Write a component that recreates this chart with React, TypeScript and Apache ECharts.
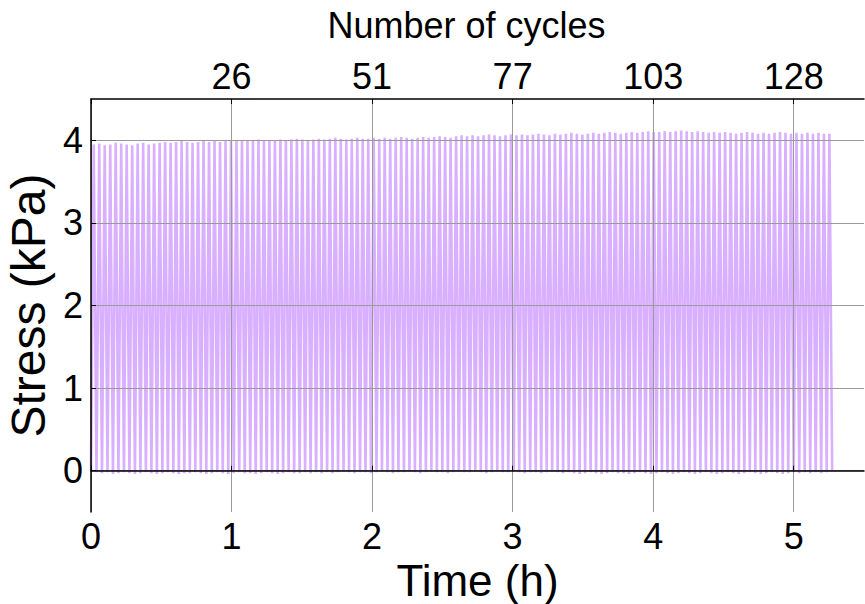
import React, { useEffect, useRef } from "react";
import * as echarts from "echarts";

// Peak stress (kPa) of each loading cycle
const PEAKS: number[] = [
  3.95, 3.96, 3.94, 3.95, 3.97, 3.96, 3.95, 3.94, 3.96, 3.97, 3.95, 3.96, 3.97,
  3.98, 3.97, 3.98, 3.99, 3.98, 3.97, 3.98, 3.99, 3.98, 3.99, 3.98, 3.99, 4.0,
  3.99, 4.0, 3.99, 4.0, 4.01, 4.0, 3.99, 4.0, 4.01, 4.0, 4.01, 4.02, 4.01, 4.0, 4.01, 4.02, 4.01, 4.02, 4.03, 4.02, 4.01, 4.02, 4.03, 4.02, 4.02,
  4.03, 4.02, 4.03, 4.02, 4.03, 4.04, 4.03, 4.02, 4.03, 4.04, 4.03, 4.04, 4.05, 4.04, 4.03, 4.05, 4.06, 4.05, 4.06, 4.05, 4.06, 4.07, 4.06, 4.05, 4.06, 4.07,
  4.06, 4.07, 4.06, 4.07, 4.08, 4.07, 4.06, 4.08, 4.07, 4.08, 4.09, 4.08, 4.07, 4.08, 4.09, 4.08, 4.09, 4.1, 4.09, 4.08, 4.09, 4.1, 4.09, 4.1, 4.11, 4.1,
  4.1, 4.11, 4.1, 4.11, 4.12, 4.11, 4.1, 4.11, 4.1, 4.09, 4.1, 4.09, 4.1, 4.09, 4.08, 4.09, 4.1, 4.09, 4.08, 4.09, 4.08, 4.09, 4.1, 4.09, 4.08, 4.09, 4.08, 4.09, 4.08, 4.09, 4.08, 4.08,
];

// Trough stress (kPa) before each cycle (plus the final unloading value)
const TROUGHS: number[] = [
  0.0, -0.02, -0.03, -0.02, -0.04, -0.03, -0.02, -0.03, -0.04, -0.03,
  -0.02, -0.03, -0.04, -0.03, -0.02, -0.03, -0.04, -0.03, -0.03, -0.02,
  -0.03, -0.04, -0.03, -0.02, -0.03, -0.04, -0.03, -0.02, -0.03, -0.03,
  -0.04, -0.03, -0.02, -0.03, -0.04, -0.03, -0.02, -0.03, -0.03, -0.02,
  -0.03, -0.02, -0.03, -0.02, -0.03, -0.02, -0.01, -0.02, -0.03, -0.02,
  -0.02, -0.03, -0.02, -0.01, -0.02, -0.03, -0.02, -0.02, -0.01, -0.02,
  -0.03, -0.02, -0.01, -0.02, -0.02, -0.03, -0.02, -0.01, -0.02, -0.02,
  -0.01, -0.02, -0.03, -0.02, -0.01, -0.02, -0.02, -0.01, -0.02, -0.03,
  -0.02, -0.02, -0.03, -0.02, -0.01, -0.02, -0.03, -0.02, -0.03, -0.04,
  -0.03, -0.02, -0.03, -0.04, -0.03, -0.02, -0.03, -0.03, -0.04, -0.03,
  -0.02, -0.03, -0.04, -0.03, -0.02, -0.03, -0.04, -0.03, -0.02, -0.03,
  -0.04, -0.03, -0.02, -0.03, -0.04, -0.03, -0.02, -0.03, -0.04, -0.03,
  -0.02, -0.03, -0.04, -0.03, -0.02, -0.03, -0.04, -0.03, -0.02, -0.03,
  -0.02, -0.03, -0.02, -0.03, -0.02, 0.0,
];

const CYCLES_PER_HOUR = 25.6;
const TIME_TICKS = [0, 1, 2, 3, 4, 5];
const TIME_LABELS = [0, 1, 2, 3, 4, 5];
const CYCLE_TICK_POS = [1, 2, 3, 4, 5];
const CYCLE_TICK_LABELS = ["26", "51", "77", "103", "128"];
const STRESS_TICKS = [0, 1, 2, 3, 4];

const FONT = "'Liberation Sans', Arial, Helvetica, sans-serif";

export default function App() {
  const ref = useRef<HTMLDivElement>(null);

  useEffect(() => {
    if (!ref.current) return;
    const chart = echarts.init(ref.current, undefined, { renderer: "svg" });

    const period = 1 / CYCLES_PER_HOUR;
    const n = Math.min(PEAKS.length, TROUGHS.length - 1);
    const data: [number, number][] = [];
    for (let i = 0; i < n; i++) {
      data.push([i * period, TROUGHS[i]]);
      data.push([(i + 0.5) * period, PEAKS[i]]);
    }
    data.push([n * period, TROUGHS[n]]);

    const axisLine = { show: true, lineStyle: { color: "#000", width: 1.5 } };
    const gridLine = { show: true, lineStyle: { color: "#9a9a9a", width: 1, type: "solid" as const } };

    chart.setOption({
      animation: false,
      backgroundColor: "#fff",
      grid: { left: 91, right: 1, top: 99, bottom: 92, containLabel: false, outerBoundsMode: "none" },
      xAxis: [
        {
          type: "value",
          position: "bottom",
          min: 0,
          max: 5.5,
          interval: 1,
          name: "Time (h)",
          nameLocation: "middle",
          nameGap: 42,
          nameTextStyle: { fontFamily: FONT, fontSize: 44, color: "#000" },
          axisLine,
          axisTick: { show: true, inside: true, length: 5, customValues: TIME_TICKS, lineStyle: { color: "#000" } },
          axisLabel: {
            customValues: TIME_LABELS,
            fontFamily: FONT,
            fontSize: 36,
            color: "#000",
            margin: 6,
          },
          splitLine: gridLine,
        },
        {
          type: "value",
          position: "top",
          min: 0,
          max: 5.5,
          interval: 1,
          name: "Number of cycles",
          nameLocation: "middle",
          nameGap: 56,
          nameTextStyle: { fontFamily: FONT, fontSize: 36, color: "#000", padding: [0, 22, 0, 0] },
          axisLine,
          axisTick: { show: true, inside: true, length: 5, customValues: TIME_TICKS, lineStyle: { color: "#000" } },
          axisLabel: {
            customValues: CYCLE_TICK_POS,
            formatter: (v: number) => CYCLE_TICK_LABELS[CYCLE_TICK_POS.indexOf(Math.round(v))] ?? "",
            fontFamily: FONT,
            fontSize: 36,
            color: "#000",
            margin: 5,
          },
          splitLine: { show: false },
        },
      ],
      yAxis: {
        type: "value",
        min: -0.5,
        max: 4.5,
        name: "Stress (kPa)",
        nameLocation: "middle",
        nameGap: 32,
        nameTextStyle: { fontFamily: FONT, fontSize: 48, color: "#000" },
        axisLine,
        axisTick: { show: true, inside: true, length: 5, customValues: STRESS_TICKS, lineStyle: { color: "#000" } },
        axisLabel: {
          customValues: STRESS_TICKS,
          fontFamily: FONT,
          fontSize: 36,
          color: "#000",
          margin: 8,
        },
        splitLine: gridLine,
      },
      series: [
        {
          type: "line",
          xAxisIndex: 0,
          yAxisIndex: 0,
          data,
          showSymbol: false,
          symbol: "none",
          z: -1,
          lineStyle: { color: "#d9b0ff", width: 2.6 },
        },
      ],
    });

    return () => chart.dispose();
  }, []);

  return (
    <div
      ref={ref}
      style={{ position: "fixed", left: 0, top: 0, width: 865, height: 604, background: "#fff" }}
    />
  );
}
